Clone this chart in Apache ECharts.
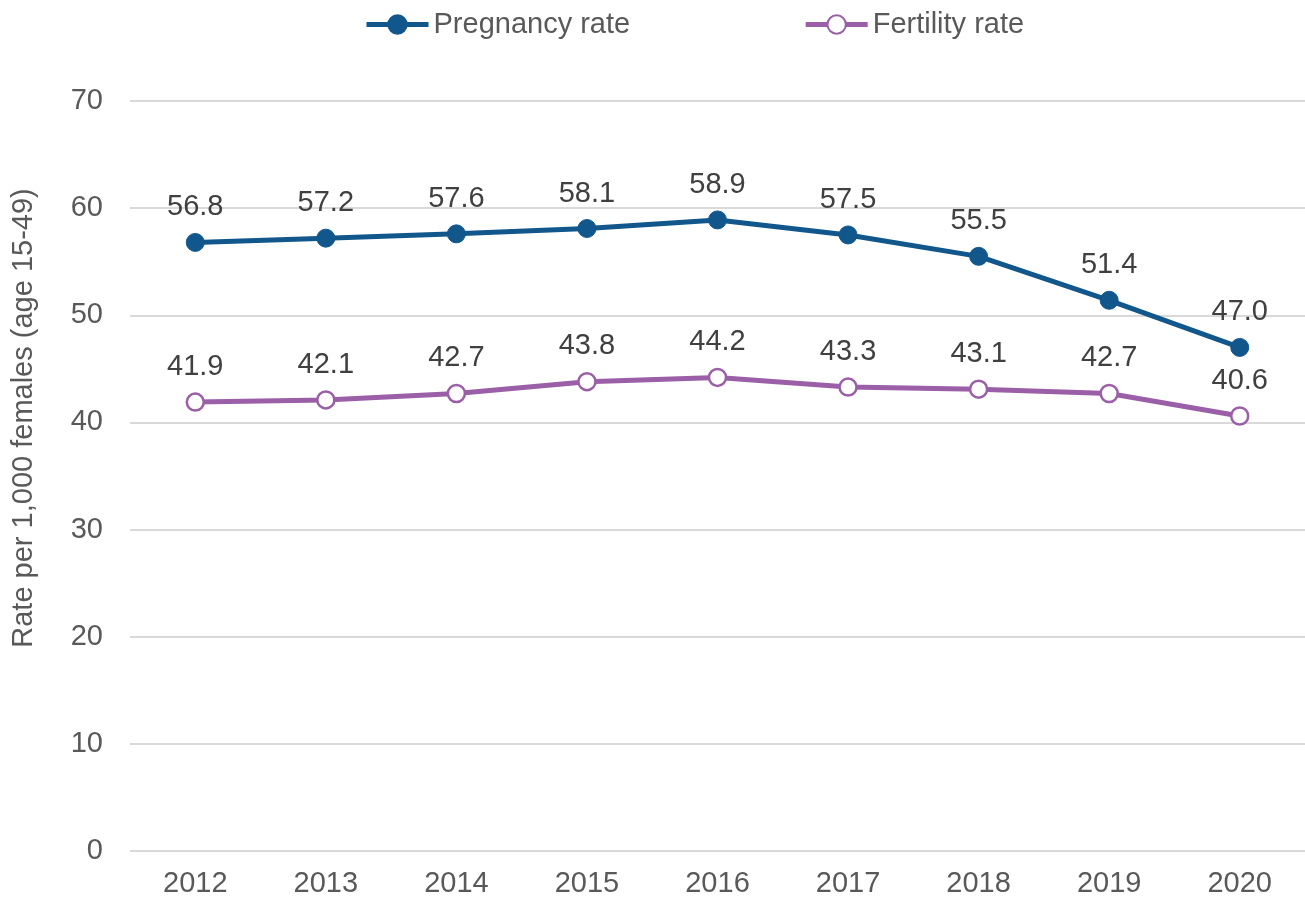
<!DOCTYPE html>
<html>
<head>
<meta charset="utf-8">
<script src="https://cdn.jsdelivr.net/npm/echarts@6/dist/echarts.min.js"></script>
<style>
    html, body { margin: 0; padding: 0; background: #fff; }
</style>
</head>
<body>
<div id="main" style="width: 1305px;height:901px;"></div>
<script type="text/javascript">
    var years = ['2012', '2013', '2014', '2015', '2016', '2017', '2018', '2019', '2020'];
    var pregnancyRate = [56.8, 57.2, 57.6, 58.1, 58.9, 57.5, 55.5, 51.4, 47.0];
    var fertilityRate = [41.9, 42.1, 42.7, 43.8, 44.2, 43.3, 43.1, 42.7, 40.6];
    var yTicks = [0, 10, 20, 30, 40, 50, 60, 70];

    var myChart = echarts.init(document.getElementById('main'));

    var font = 'Liberation Sans, Arial, sans-serif';
    var blue = '#12578c';
    var purple = '#9b5fa8';

    var labelStyle = {
        show: true,
        position: 'top',
        distance: 11,
        color: '#404040',
        fontSize: 29,
        fontFamily: font,
        formatter: function (p) { return p.value.toFixed(1); }
    };

    var option = {
        animation: false,
        textStyle: { fontFamily: font },
        legend: {
            top: 5,
            left: 359,
            itemWidth: 62,
            itemHeight: 23,
            itemGap: 173,
            textStyle: { color: '#595959', fontSize: 29 },
            data: [
                { name: 'Pregnancy rate', lineStyle: { width: 5 } },
                { name: 'Fertility rate', lineStyle: { width: 5 } }
            ]
        },
        grid: { left: 130, right: 0, top: 101, bottom: 50 },
        graphic: [{
            type: 'text',
            x: 24,
            y: 418,
            rotation: Math.PI / 2,
            style: {
                text: 'Rate per 1,000 females (age 15-49)',
                fill: '#595959',
                fontSize: 29,
                fontFamily: font,
                align: 'center',
                verticalAlign: 'middle'
            }
        }],
        xAxis: {
            type: 'category',
            data: years,
            boundaryGap: true,
            axisLine: { show: false },
            axisTick: { show: false },
            axisLabel: { color: '#595959', fontSize: 29, margin: 18 }
        },
        yAxis: {
            type: 'value',
            min: yTicks[0],
            max: yTicks[yTicks.length - 1],
            interval: 10,
            axisLine: { show: false },
            axisTick: { show: false },
            axisLabel: { color: '#595959', fontSize: 29, margin: 27 },
            splitLine: { lineStyle: { color: '#d9d9d9', width: 2 } }
        },
        series: [
            {
                name: 'Pregnancy rate',
                type: 'line',
                data: pregnancyRate,
                symbol: 'circle',
                symbolSize: 18,
                itemStyle: { color: blue, borderColor: blue, borderWidth: 1 },
                lineStyle: { color: blue, width: 5 },
                label: labelStyle
            },
            {
                name: 'Fertility rate',
                type: 'line',
                data: fertilityRate,
                symbol: 'circle',
                symbolSize: 17,
                itemStyle: { color: '#ffffff', borderColor: purple, borderWidth: 2.5 },
                lineStyle: { color: purple, width: 5 },
                label: labelStyle
            }
        ]
    };

    myChart.setOption(option);
</script>
</body>
</html>
